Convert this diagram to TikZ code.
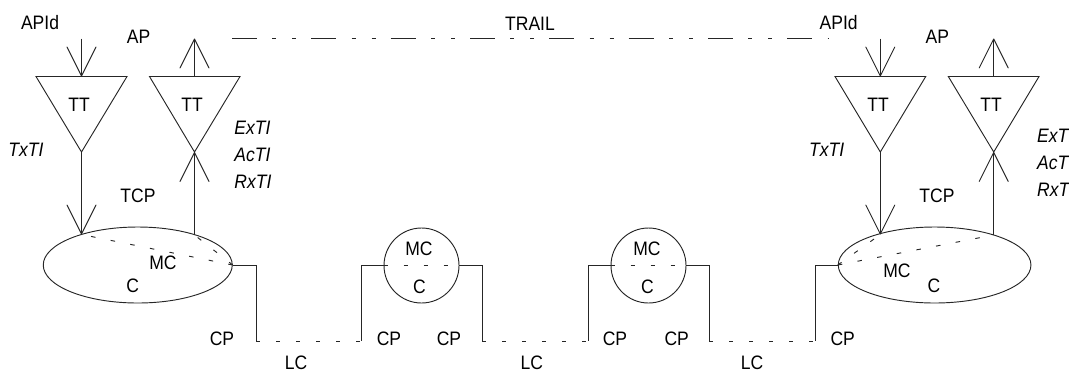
\documentclass[tikz,border=0pt]{standalone}
\usepackage{fontspec}
\setmainfont[FakeStretch=0.9]{Liberation Sans}
\usetikzlibrary{arrows.meta,shapes.geometric}
\tikzset{
  every picture/.style={x=0.75pt,y=-0.75pt,line width=0.7pt,color=black!85},
  lbl/.style={inner sep=0,text=black,font=\fontsize{14.6}{16}\selectfont},
  ital/.style={lbl,font=\fontsize{14.6}{16}\selectfont\itshape},
  itw/.style={ital,anchor=west},
  elli/.style={draw,ellipse,inner sep=0,minimum height=57pt},
  circ/.style={draw,circle,inner sep=0,minimum size=56.25pt},
  barb/.style={-{Straight Barb[length=21.75pt,width=21.75pt,round]}},
  inner/.style={dash pattern=on 3.4pt off 11.6pt},
  link/.style={dash pattern=on 3pt off 12pt},
  trailline/.style={dash pattern=on 18.75pt off 11.5pt on 3pt off 12pt on 3pt off 11.25pt},
}
\begin{document}
\begin{tikzpicture}
\useasboundingbox (0,0) rectangle (1069,372);
\clip (0,0) rectangle (1069,372);
% triangle corners
\coordinate (a1) at (36,76.5);  \coordinate (b1) at (127,76.5);  \coordinate (p1) at (81.5,152);
\coordinate (a2) at (149.5,76.5); \coordinate (b2) at (240,76.5); \coordinate (p2) at (194.5,152);
\coordinate (a3) at (835,76.5); \coordinate (b3) at (925.7,76.5); \coordinate (p3) at (880.3,152);
\coordinate (a4) at (948.3,76.5); \coordinate (b4) at (1039,76.5); \coordinate (p4) at (993.7,152);
\draw (a1) -- (b1) -- (p1) -- cycle;
\draw (a2) -- (b2) -- (p2) -- cycle;
\draw (a3) -- (b3) -- (p3) -- cycle;
\draw (a4) -- (b4) -- (p4) -- cycle;
% connection centres
\node[elli,minimum width=141.75pt] (e1) at (137.75,265) {};
\node[elli,minimum width=144.5pt] (e2) at (934.6,265) {};
\node[circ] (c1) at (421.5,265.5) {};
\node[circ] (c2) at (648.5,265.5) {};
% free ends and points
\coordinate (in1) at (81.5,38.5);   \coordinate (top1) at (81.5,76.5);
\coordinate (out2) at (194.5,38.5); \coordinate (top2) at (194.5,76.5);
\coordinate (in3) at (880.3,38.5);  \coordinate (top3) at (880.3,76.5);
\coordinate (out4) at (993.7,38.5); \coordinate (top4) at (993.7,76.5);
\coordinate (t1) at (81.5,234.5);   \coordinate (t2) at (194.5,235);
\coordinate (t3) at (880.3,234.5);  \coordinate (t4) at (993.7,235);
\coordinate (k1) at (256,341); \coordinate (k2) at (361,341);
\coordinate (k3) at (482.3,341); \coordinate (k4) at (588.3,341);
\coordinate (k5) at (709.3,341); \coordinate (k6) at (815,341);
\coordinate (tl) at (232,38.5); \coordinate (tr) at (829,38.5);
% arrows
\draw[barb] (in1) -- (top1);
\draw[barb] (top2) -- (out2);
\draw[barb] (in3) -- (top3);
\draw[barb] (top4) -- (out4);
\draw[barb] (p1) -- (t1);
\draw[barb] (t2) -- (p2);
\draw[barb] (p3) -- (t3);
\draw[barb] (t4) -- (p4);
% dashed inside
\draw[inner] (e1.east) -- (t1);
\draw[inner] (e1.east) -- (t2);
\draw[inner] (e2.west) -- (t3);
\draw[inner] (e2.west) -- (t4);
\draw[inner] (c1.west) -- (c1.east);
\draw[inner] (c2.west) -- (c2.east);
% link connections
\draw (e1.east) -| (k1);
\draw (c1.west) -| (k2);
\draw (c1.east) -| (k3);
\draw (c2.west) -| (k4);
\draw (c2.east) -| (k5);
\draw (e2.west) -| (k6);
\draw[link] (k1) -- (k2);
\draw[link] (k3) -- (k4);
\draw[link] (k5) -- (k6);
\draw[trailline] (tl) -- (tr);
% labels
\node[lbl] (l1) at (40,23) {APId};
\node[lbl] (l2) at (138.5,37) {AP};
\node[lbl] (l3) at (79,105) {TT};
\node[lbl] (l4) at (192,105) {TT};
\node[ital] (l5) at (26,150) {TxTI};
\node[itw] (l6) at (234,128) {ExTI};
\node[itw] (l7) at (234,155) {AcTI};
\node[itw] (l8) at (234,182) {RxTI};
\node[lbl] (l9) at (138,196) {TCP};
\node[lbl] (l10) at (163,263) {MC};
\node[lbl] (l11) at (132.7,286) {C};
\node[lbl] (l12) at (222,339) {CP};
\node[lbl] (l13) at (296,362.5) {LC};
\node[lbl] (l14) at (389,339) {CP};
\node[lbl] (l15) at (449,339) {CP};
\node[lbl] (l16) at (419,249) {MC};
\node[lbl] (l17) at (419.5,286.5) {C};
\node[lbl] (l18) at (531.7,362.5) {LC};
\node[lbl] (l19) at (615,339) {CP};
\node[lbl] (l20) at (676.7,339) {CP};
\node[lbl] (l21) at (647,249) {MC};
\node[lbl] (l22) at (647.5,286.5) {C};
\node[lbl] (l23) at (752,362.5) {LC};
\node[lbl] (l24) at (842.7,339) {CP};
\node[lbl] (l25) at (530,24) {TRAIL};
\node[lbl] (l26) at (838.7,23) {APId};
\node[lbl] (l27) at (937.3,37) {AP};
\node[lbl] (l28) at (878,105) {TT};
\node[lbl] (l29) at (991,105) {TT};
\node[ital] (l30) at (826.7,150) {TxTI};
\node[itw] (l31) at (1036.7,136) {ExTI};
\node[itw] (l32) at (1036.7,163) {AcTI};
\node[itw] (l33) at (1036.7,190) {RxTI};
\node[lbl] (l34) at (937,196) {TCP};
\node[lbl] (l35) at (897,271) {MC};
\node[lbl] (l36) at (934,286) {C};
\end{tikzpicture}
\end{document}
